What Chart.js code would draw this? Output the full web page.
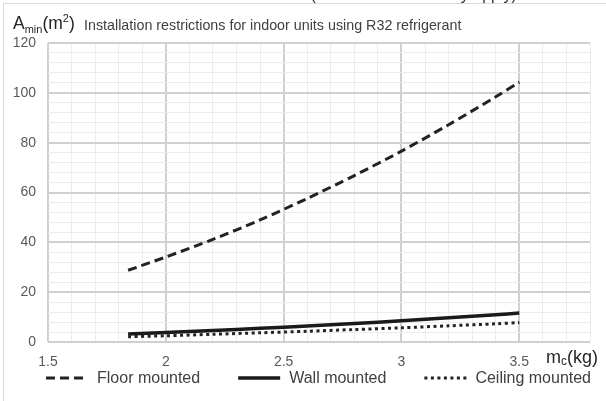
<!DOCTYPE html>
<html>
<head>
<meta charset="utf-8">
<script src="https://cdn.jsdelivr.net/npm/chart.js@4.4.1/dist/chart.umd.min.js"></script>
<style>
  html, body { margin: 0; padding: 0; background: #fff; }
  #wrap { position: relative; width: 606px; height: 401px; overflow: hidden; font-family: "Liberation Sans", Arial, sans-serif; }
  #frame { position: absolute; left: 3px; top: 3px; width: 700px; height: 500px; border: 1px solid #d9d9d9; box-sizing: border-box; }
  #cut { position: absolute; left: 40px; width: 606px; top: -14px; text-align: center; font-size: 16px; color: #333; white-space: nowrap; }
  #ytitle { position: absolute; left: 13px; top: 8px; font-size: 17.5px; color: #262626; line-height: 20px; }
  #ytitle sub { font-size: 11px; vertical-align: -4px; }
  #ytitle sup { font-size: 11px; vertical-align: 7px; }
  #sub { position: absolute; left: 84px; top: 17px; font-size: 14.3px; color: #404040; line-height: 17px; }
  #xtitle { position: absolute; left: 546px; top: 347px; font-size: 18px; color: #262626; line-height: 20px; }
  #xtitle sub { font-size: 12px; vertical-align: -2px; }
  #c { position: absolute; left: 0; top: 0; }
</style>
</head>
<body>
<div id="wrap">
  <canvas id="c" width="606" height="401"></canvas>
  <div id="frame"></div>
  <div id="cut">Minimum floor area (other restrictions may apply)</div>
  <div id="ytitle">A<sub>min</sub>(m<sup>2</sup>)</div>
  <div id="sub">Installation restrictions for indoor units using R32 refrigerant</div>
  <div id="xtitle">m<sub>c</sub>(kg)</div>
</div>
<script>
const chargeKg = [1.84, 2.0, 2.2, 2.4, 2.6, 2.8, 3.0, 3.2, 3.4, 3.5];
const floorMounted = [28.8, 34.1, 41.2, 49.0, 57.6, 66.8, 76.6, 87.2, 98.4, 104.3];
const wallMounted = [3.2, 3.8, 4.6, 5.5, 6.4, 7.4, 8.5, 9.7, 10.9, 11.6];
const ceilingMounted = [2.1, 2.5, 3.1, 3.7, 4.3, 5.0, 5.7, 6.5, 7.3, 7.8];
const xTickLabels = [1.5, 2, 2.5, 3, 3.5];
const yTickLabels = [0, 20, 40, 60, 80, 100, 120];
const seriesNames = ["Floor mounted", "Wall mounted", "Ceiling mounted"];

const pts = vals => chargeKg.map((x, i) => ({ x: x, y: vals[i] }));
const near = (v, list) => list.some(t => Math.abs(v - t) < 1e-6);

// legend drawn from the datasets' own styles
const legendPlugin = {
  id: 'bottomLegend',
  afterDraw(chart) {
    const ctx = chart.ctx;
    const font = '16px "Liberation Sans", Arial, sans-serif';
    const sample = 42, textGap = 9, itemGap = 38, yMid = 378;
    let x = 46;
    ctx.save();
    ctx.font = font;
    ctx.textBaseline = 'middle';
    chart.data.datasets.forEach(ds => {
      ctx.beginPath();
      ctx.setLineDash(ds.borderDash || []);
      ctx.lineWidth = ds.borderWidth;
      ctx.strokeStyle = ds.borderColor;
      ctx.moveTo(x, yMid);
      ctx.lineTo(x + sample, yMid);
      ctx.stroke();
      ctx.setLineDash([]);
      ctx.fillStyle = '#404040';
      ctx.fillText(ds.label, x + sample + textGap, yMid + 1);
      x += sample + textGap + ctx.measureText(ds.label).width + itemGap;
    });
    ctx.restore();
  }
};

new Chart(document.getElementById('c'), {
  type: 'line',
  data: {
    datasets: [
      { label: seriesNames[0], data: pts(floorMounted), borderColor: '#222', backgroundColor: '#222', borderWidth: 3, borderDash: [9, 5], pointRadius: 0, tension: 0.3, fill: false },
      { label: seriesNames[1], data: pts(wallMounted), borderColor: '#1a1a1a', backgroundColor: '#1a1a1a', borderWidth: 3.5, pointRadius: 0, tension: 0.3, fill: false },
      { label: seriesNames[2], data: pts(ceilingMounted), borderColor: '#222', backgroundColor: '#222', borderWidth: 3, borderDash: [3, 3.5], pointRadius: 0, tension: 0.3, fill: false }
    ]
  },
  plugins: [legendPlugin],
  options: {
    responsive: false,
    animation: false,
    layout: { padding: { left: 0, right: 16, top: 43, bottom: 0 } },
    plugins: {
      tooltip: { enabled: false },
      legend: { display: false }
    },
    scales: {
      x: {
        type: 'linear', min: 1.5, max: 3.8,
        afterBuildTicks: s => { const t = []; for (let i = 0; i <= 23; i++) t.push({ value: +(1.5 + i * 0.1).toFixed(1) }); s.ticks = t; },
        ticks: {
          autoSkip: false, maxRotation: 0, padding: 12,
          color: '#595959', font: { family: 'Liberation Sans', size: 14 },
          callback: v => near(v, xTickLabels) ? String(+v.toFixed(1)) : ''
        },
        grid: {
          drawTicks: false,
          color: c => near(c.tick.value, xTickLabels) ? '#d0d0d0' : '#ececec',
          lineWidth: c => near(c.tick.value, xTickLabels) ? 2 : 1
        },
        border: { display: false },
        afterFit: s => { s.height = 59; }
      },
      y: {
        type: 'linear', min: 0, max: 120,
        ticks: {
          stepSize: 4, autoSkip: false, padding: 12,
          color: '#595959', font: { family: 'Liberation Sans', size: 14 },
          callback: v => near(v, yTickLabels) ? String(v) : ''
        },
        grid: {
          drawTicks: false,
          color: c => near(c.tick.value, yTickLabels) ? '#d0d0d0' : '#ececec',
          lineWidth: c => near(c.tick.value, yTickLabels) ? 2 : 1
        },
        border: { display: false },
        afterFit: s => { s.width = 48; }
      }
    }
  }
});
</script>
</body>
</html>
